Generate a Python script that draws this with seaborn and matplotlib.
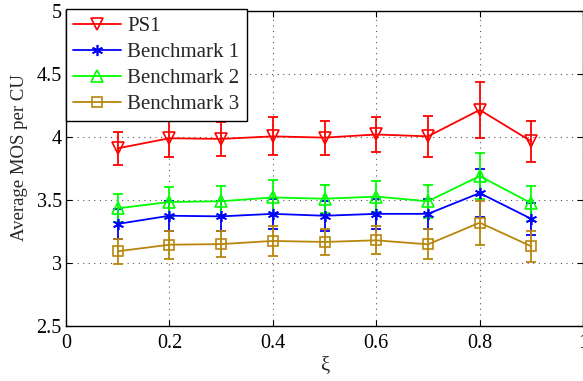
import matplotlib
matplotlib.use("Agg")
import matplotlib.pyplot as plt
import seaborn as sns
import pandas as pd
import numpy as np

xi = [0.1, 0.2, 0.3, 0.4, 0.5, 0.6, 0.7, 0.8, 0.9]
series_names = ["PS1", "Benchmark 1", "Benchmark 2", "Benchmark 3"]
ps1 = [3.91, 3.99, 3.985, 4.005, 3.995, 4.02, 4.005, 4.215, 3.965]
ps1_err = [0.13, 0.15, 0.135, 0.15, 0.135, 0.14, 0.16, 0.225, 0.165]
bench1 = [3.31, 3.375, 3.37, 3.39, 3.375, 3.39, 3.39, 3.555, 3.35]
bench1_err = [0.12, 0.12, 0.12, 0.12, 0.12, 0.12, 0.12, 0.19, 0.13]
bench2 = [3.434, 3.484, 3.49, 3.52, 3.51, 3.527, 3.49, 3.69, 3.474]
bench2_err = [0.11, 0.12, 0.12, 0.135, 0.11, 0.125, 0.13, 0.185, 0.14]
bench3 = [3.093, 3.145, 3.15, 3.175, 3.167, 3.18, 3.148, 3.32, 3.132]
bench3_err = [0.1, 0.11, 0.105, 0.12, 0.105, 0.11, 0.12, 0.175, 0.125]

sns.set_theme(style="white")
plt.rcParams["font.family"] = ["Liberation Serif", "DejaVu Serif"]
plt.rcParams["mathtext.fontset"] = "stix"

fig = plt.figure(figsize=(5.83, 3.81), dpi=100)
ax = fig.add_axes([0.1132, 0.1444, 0.887, 0.8267])

colors = ["#FF0000", "#0000FF", "#00FF00", "#B8860B"]
markers = ["v", (6, 2, 0), "^", "s"]
msizes = [9, 8, 9, 7]
values = [ps1, bench1, bench2, bench3]
errs = [ps1_err, bench1_err, bench2_err, bench3_err]

rows = []
for name, vals in zip(series_names, values):
    for x, v in zip(xi, vals):
        rows.append({"xi": x, "mos": v, "series": name})
df = pd.DataFrame(rows)

for name, vals, err, c, m, ms in zip(series_names, values, errs, colors, markers, msizes):
    sub = df[df["series"] == name]
    ax.errorbar(xi, vals, yerr=err, fmt="none", ecolor=c, elinewidth=1.3,
                capsize=3.5, capthick=1.3, zorder=2)
    sns.lineplot(data=sub, x="xi", y="mos", ax=ax, color=c, marker=m,
                 markersize=ms, markerfacecolor="none", markeredgecolor=c,
                 markeredgewidth=1.2, linewidth=1.3, label=name, zorder=3)

ax.set_xlim(0, 1)
ax.set_ylim(2.5, 5)
ax.set_xticks([0, 0.2, 0.4, 0.6, 0.8, 1.0])
ax.set_xticklabels(["0", "0.2", "0.4", "0.6", "0.8", "1"])
ax.set_yticks([2.5, 3, 3.5, 4, 4.5, 5])
ax.set_yticklabels(["2.5", "3", "3.5", "4", "4.5", "5"])
ax.tick_params(axis="both", direction="in", labelsize=14.5, length=4, width=0.8,
               top=True, right=True, bottom=True, left=True, colors="black")
ax.tick_params(axis="x", pad=6)
ax.tick_params(axis="y", pad=3)
ax.set_xlabel("ξ", fontsize=15, labelpad=2)
ax.set_ylabel("Average MOS per CU", fontsize=13.5)
ax.yaxis.set_label_coords(-0.073, 0.535)
ax.grid(True, linestyle=(0, (1, 4)), color="#555555", linewidth=0.8)
for s in ax.spines.values():
    s.set_visible(True)
    s.set_color("black")
    s.set_linewidth(1.0)

leg = ax.legend(loc="upper left", bbox_to_anchor=(0.0, 1.005), borderaxespad=0,
                fontsize=15, handlelength=2.3, handletextpad=0.3, labelspacing=0.3,
                borderpad=0.35, fancybox=False, framealpha=1, edgecolor="black")
leg.get_frame().set_linewidth(1.0)

fig.savefig("out.png", dpi=100)
